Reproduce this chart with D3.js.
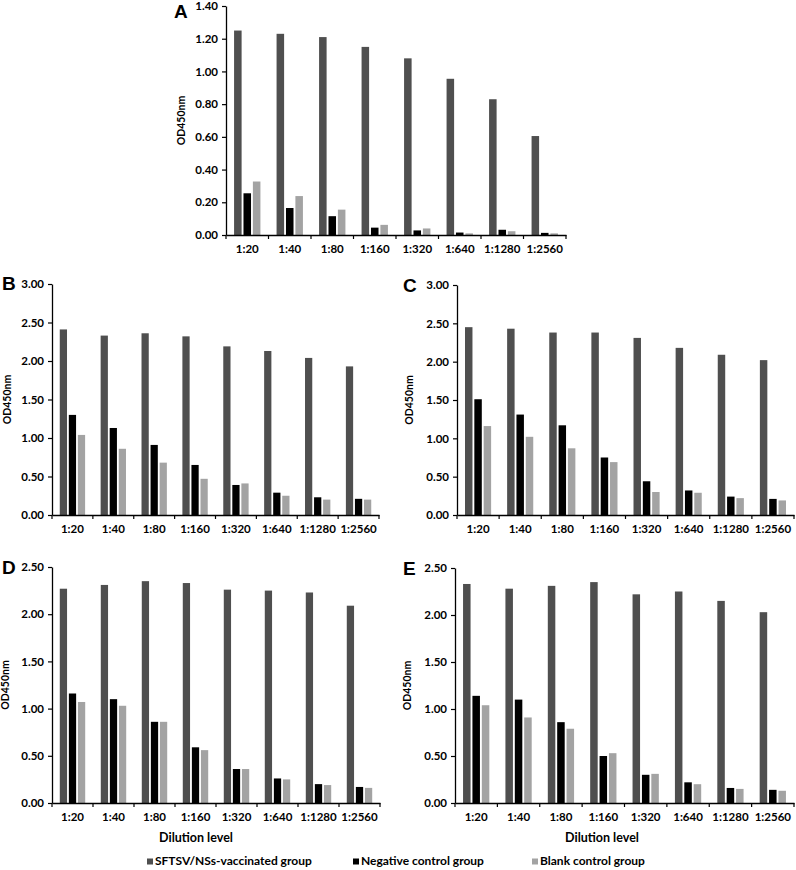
<!DOCTYPE html>
<html>
<head>
<meta charset="utf-8">
<script src="https://cdn.jsdelivr.net/npm/d3@7"></script>
<style>
  html, body { margin: 0; padding: 0; background: #fff; }
  svg { display: block; }
  text { font-family: Lato, "Liberation Sans", Arial, sans-serif; font-weight: bold; fill: #000; }
</style>
</head>
<body>
<svg id="chart" width="796" height="870"></svg>
<script>
const categories = ["1:20", "1:40", "1:80", "1:160", "1:320", "1:640", "1:1280", "1:2560"];
const seriesNames = ["SFTSV/NSs-vaccinated group", "Negative control group", "Blank control group"];
const seriesColors = ["#4f4f4f", "#000000", "#a3a3a3"];

// Panel A
const A_vaccinated = [1.25, 1.23, 1.21, 1.15, 1.08, 0.955, 0.83, 0.605];
const A_negative   = [0.255, 0.165, 0.115, 0.045, 0.028, 0.015, 0.032, 0.013];
const A_blank      = [0.327, 0.238, 0.155, 0.062, 0.040, 0.010, 0.023, 0.010];
const A_ticks = [0, 0.2, 0.4, 0.6, 0.8, 1.0, 1.2, 1.4];

// Panel B
const B_vaccinated = [2.41, 2.33, 2.36, 2.32, 2.19, 2.13, 2.04, 1.93];
const B_negative   = [1.30, 1.13, 0.91, 0.65, 0.39, 0.29, 0.23, 0.21];
const B_blank      = [1.04, 0.86, 0.68, 0.47, 0.41, 0.25, 0.20, 0.20];
const B_ticks = [0, 0.5, 1.0, 1.5, 2.0, 2.5, 3.0];

// Panel C
const C_vaccinated = [2.45, 2.43, 2.38, 2.38, 2.31, 2.18, 2.09, 2.02];
const C_negative   = [1.51, 1.31, 1.17, 0.75, 0.44, 0.32, 0.24, 0.21];
const C_blank      = [1.16, 1.02, 0.87, 0.69, 0.30, 0.29, 0.22, 0.19];
const C_ticks = [0, 0.5, 1.0, 1.5, 2.0, 2.5, 3.0];

// Panel D
const D_vaccinated = [2.27, 2.31, 2.35, 2.33, 2.26, 2.25, 2.23, 2.09];
const D_negative   = [1.16, 1.10, 0.86, 0.59, 0.36, 0.26, 0.20, 0.17];
const D_blank      = [1.07, 1.03, 0.86, 0.56, 0.36, 0.25, 0.19, 0.16];
const D_ticks = [0, 0.5, 1.0, 1.5, 2.0, 2.5];

// Panel E
const E_vaccinated = [2.33, 2.28, 2.31, 2.35, 2.22, 2.25, 2.15, 2.03];
const E_negative   = [1.14, 1.10, 0.86, 0.50, 0.30, 0.22, 0.16, 0.14];
const E_blank      = [1.04, 0.91, 0.79, 0.53, 0.31, 0.20, 0.15, 0.13];
const E_ticks = [0, 0.5, 1.0, 1.5, 2.0, 2.5];

const yLabel = "OD450nm";
const xLabel = "Dilution level";

const svg = d3.select("#chart");

function drawPanel(opt) {
  const { letter, series, ticks, x0, x1, yTop, yZero, letterX, letterY, yLabelX, xTitleX } = opt;
  const g = svg.append("g");
  const x = d3.scaleBand().domain(categories).range([x0, x1]).padding(0);
  const y = d3.scaleLinear().domain([0, ticks[ticks.length - 1]]).range([yZero, yTop]);
  const bw = x.bandwidth();
  const inner = d3.scaleBand().domain(d3.range(series.length))
    .range([bw * 0.19, bw * 0.81]).paddingInner(0.2);

  const rows = [];
  series.forEach((vals, si) => vals.forEach((v, ci) => rows.push({ si, cat: categories[ci], v })));
  g.selectAll("rect").data(rows).join("rect")
    .attr("x", d => x(d.cat) + inner(d.si))
    .attr("y", d => y(d.v))
    .attr("width", inner.bandwidth())
    .attr("height", d => y(0) - y(d.v))
    .attr("fill", d => seriesColors[d.si]);

  // y axis
  const yAxis = d3.axisLeft(y).tickValues(ticks).tickSize(4).tickSizeOuter(0)
    .tickFormat(d => d.toFixed(2));
  const ya = g.append("g").attr("transform", `translate(${x0},0)`).call(yAxis);
  ya.select(".domain").attr("stroke", "#000").attr("stroke-width", 1.3);
  ya.selectAll(".tick line").attr("stroke", "#000").attr("stroke-width", 1.2);
  ya.selectAll(".tick text").attr("x", -8).style("font-size", "11.5px")
    .style("font-family", "Lato, 'Liberation Sans', Arial, sans-serif").style("font-weight", "bold");

  // x axis
  const xa = g.append("g").attr("transform", `translate(0,${yZero})`)
    .call(d3.axisBottom(x).tickSize(0).tickSizeOuter(0));
  xa.select(".domain").attr("stroke", "#000").attr("stroke-width", 1.3);
  xa.selectAll(".tick text").attr("y", 10).style("font-size", "11.5px")
    .style("font-family", "Lato, 'Liberation Sans', Arial, sans-serif").style("font-weight", "bold");
  // boundary ticks
  const bounds = categories.map(c => x(c)).concat([x1]);
  g.selectAll("line.bt").data(bounds).join("line").attr("class", "bt")
    .attr("x1", d => d).attr("x2", d => d)
    .attr("y1", yZero).attr("y2", yZero + 4)
    .attr("stroke", "#000").attr("stroke-width", 1.2);

  // y label
  g.append("text")
    .attr("transform", `translate(${yLabelX},${(yTop + yZero) / 2}) rotate(-90)`)
    .attr("text-anchor", "middle").attr("dominant-baseline", "middle")
    .style("font-size", "10.5px").text(yLabel);

  // panel letter
  g.append("text").attr("x", letterX).attr("y", letterY)
    .attr("dominant-baseline", "middle")
    .style("font-family", "'Liberation Sans', Arial, sans-serif")
    .style("font-size", "19px").text(letter);

  if (xTitleX !== undefined) {
    g.append("text").attr("x", xTitleX).attr("y", yZero + 36)
      .attr("text-anchor", "middle").attr("dominant-baseline", "middle")
      .style("font-size", "12.5px").text(xLabel);
  }
}

drawPanel({ letter: "A", series: [A_vaccinated, A_negative, A_blank], ticks: A_ticks,
  x0: 226, x1: 566, yTop: 6, yZero: 235, letterX: 174, letterY: 13, yLabelX: 182 });
drawPanel({ letter: "B", series: [B_vaccinated, B_negative, B_blank], ticks: B_ticks,
  x0: 52, x1: 379, yTop: 284, yZero: 515, letterX: 2, letterY: 285, yLabelX: 8 });
drawPanel({ letter: "C", series: [C_vaccinated, C_negative, C_blank], ticks: C_ticks,
  x0: 457, x1: 794, yTop: 285, yZero: 515, letterX: 403, letterY: 287, yLabelX: 410 });
drawPanel({ letter: "D", series: [D_vaccinated, D_negative, D_blank], ticks: D_ticks,
  x0: 52, x1: 380, yTop: 567, yZero: 803, letterX: 2, letterY: 569, yLabelX: 6, xTitleX: 196 });
drawPanel({ letter: "E", series: [E_vaccinated, E_negative, E_blank], ticks: E_ticks,
  x0: 455, x1: 794, yTop: 568, yZero: 803, letterX: 403, letterY: 570, yLabelX: 408, xTitleX: 602 });

// legend
const legendX = [147, 353, 532];
const lg = svg.append("g").attr("transform", "translate(0,862)");
const items = lg.selectAll("g").data(seriesNames).join("g")
  .attr("transform", (d, i) => `translate(${legendX[i]},0)`);
items.append("rect").attr("x", 0).attr("y", -3.5).attr("width", 6).attr("height", 6)
  .attr("fill", (d, i) => seriesColors[i]);
items.append("text").attr("x", 8).attr("y", 0).attr("dominant-baseline", "middle")
  .style("font-size", "12px").text(d => d);
</script>
</body>
</html>
